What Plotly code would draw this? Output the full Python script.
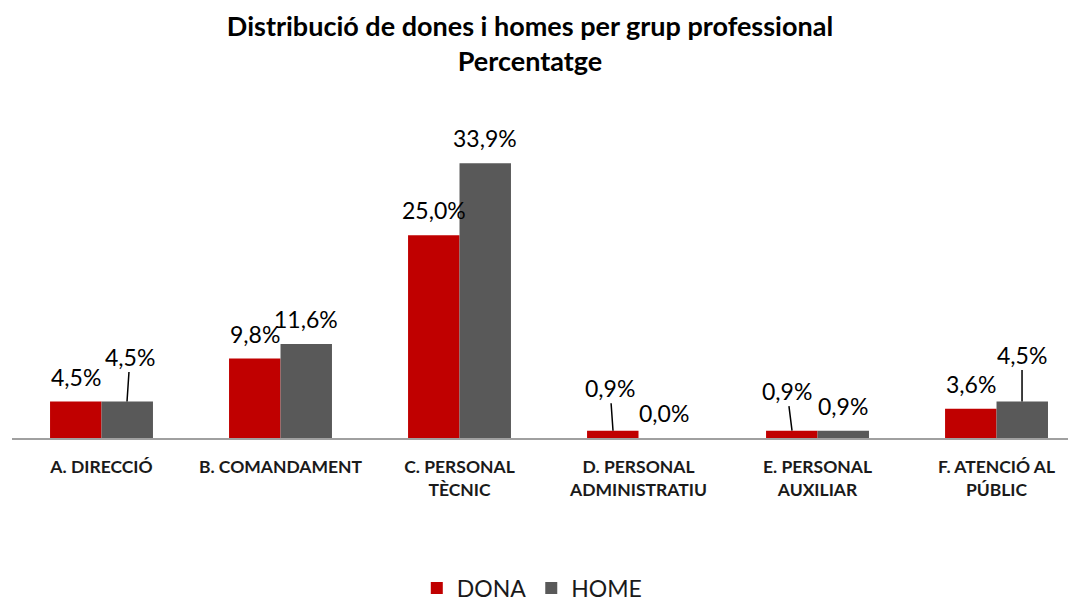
import plotly.graph_objects as go

# Data
categories = ["A. DIRECCIÓ", "B. COMANDAMENT", "C. PERSONAL<br>TÈCNIC",
              "D. PERSONAL<br>ADMINISTRATIU", "E. PERSONAL<br>AUXILIAR",
              "F. ATENCIÓ AL<br>PÚBLIC"]
dona = [4.5, 9.8, 25.0, 0.9, 0.9, 3.6]
home = [4.5, 11.6, 33.9, 0.0, 0.9, 4.5]

# label placement: None = standard above bar, otherwise (dx, dy) pixel offset with leader line
dona_leader = [None, None, None, (-3, -43), (-5, -40), None]
home_leader = [(3, -45), None, None, None, None, (0, -47)]

RED = "#C00000"
GREY = "#595959"
FONT = "Lato"

# page has an 8px body margin, so the figure is sized to fill the rest of the window
W, H = 1068, 593

fig = go.Figure()
fig.add_trace(go.Bar(x=list(range(len(categories))), y=dona, name="DONA",
                     marker=dict(color=RED, line=dict(width=0))))
fig.add_trace(go.Bar(x=list(range(len(categories))), y=home, name="HOME",
                     marker=dict(color=GREY, line=dict(width=0))))

# value labels
half = 0.1425
annotations = []
for series, leaders, off in [(dona, dona_leader, -half), (home, home_leader, half)]:
    for i, v in enumerate(series):
        txt = f"{v:.1f}%".replace(".", ",")
        lead = leaders[i]
        if lead is None:
            annotations.append(dict(x=i + off, y=v, xref="x", yref="y", text=txt,
                                    showarrow=False, yanchor="middle", yshift=25,
                                    font=dict(family=FONT, size=23, color="#000")))
        else:
            annotations.append(dict(x=i + off, y=v, xref="x", yref="y", text=txt,
                                    showarrow=True, arrowhead=0, arrowwidth=1.5,
                                    arrowcolor="#000", standoff=0,
                                    ax=lead[0], ay=lead[1],
                                    font=dict(family=FONT, size=23, color="#000")))

fig.update_layout(
    width=W, height=H,
    paper_bgcolor="white", plot_bgcolor="white",
    margin=dict(l=4, r=0, t=92, b=163, autoexpand=False),
    barmode="group", bargap=0.425, bargroupgap=0,
    title=dict(text="<b>Distribució de dones i homes per grup professional<br>Percentatge</b>",
               x=522 / W, xref="container", xanchor="center",
               y=1 - 28 / H, yref="container", yanchor="middle",
               font=dict(family=FONT, size=27, color="#000")),
    showlegend=True,
    legend=dict(orientation="h", x=0.489, xanchor="center",
                yref="paper", y=-0.444, yanchor="middle",
                font=dict(family=FONT, size=23, color="#1a1a1a"),
                traceorder="normal"),
    annotations=annotations,
)
fig.update_xaxes(range=[-0.5, 5.444], tickmode="array",
                 tickvals=list(range(len(categories))),
                 ticktext=[f"<b>{c}</b>" for c in categories],
                 tickfont=dict(family=FONT, size=17.5, color="#1a1a1a"),
                 showline=True, linecolor="#A0A0A0", linewidth=2,
                 ticks="outside", ticklen=12, tickcolor="rgba(0,0,0,0)",
                 showgrid=False, zeroline=False, automargin=False, fixedrange=True)
fig.update_yaxes(range=[0, 41.7], visible=False, showgrid=False, zeroline=False)

fig.write_html("out.html")
